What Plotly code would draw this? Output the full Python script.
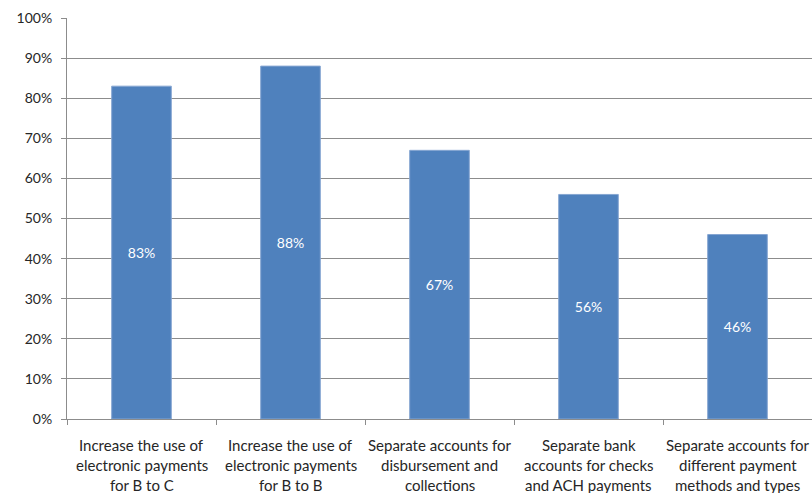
import plotly.graph_objects as go

categories = [
    "Increase the use of<br>electronic payments<br>for B to C",
    "Increase the use of<br>electronic payments<br>for B to B",
    "Separate accounts for<br>disbursement and<br>collections",
    "Separate bank<br>accounts for checks<br>and ACH payments",
    "Separate accounts for<br>different payment<br>methods and types",
]
values = [0.83, 0.88, 0.67, 0.56, 0.46]
value_labels = ["83%", "88%", "67%", "56%", "46%"]
y_ticks = [i / 10 for i in range(11)]
y_tick_labels = [f"{i*10}%" for i in range(11)]

FONT = "Lato, Open Sans, sans-serif"
TXT = "#262626"

fig = go.Figure(
    go.Bar(
        x=categories,
        y=values,
        text=value_labels,
        textposition="inside",
        insidetextanchor="middle",
        textangle=0,
        textfont=dict(color="white", size=14, family=FONT),
        marker=dict(color="#4F81BD", line=dict(color="#86A6D2", width=1)),
        hoverinfo="skip",
    )
)

# category labels as multi-line annotations (controlled line spacing)
for cat in categories:
    for i, line in enumerate(cat.split("<br>")):
        fig.add_annotation(
            x=cat, y=0, xref="x", yref="y",
            text=line, showarrow=False,
            yanchor="middle", xanchor="center",
            yshift=-(26 + 20 * i),
            font=dict(family=FONT, size=15, color=TXT),
        )

fig.update_layout(
    width=812,
    height=493,
    margin=dict(l=67, r=0, t=18, b=74),
    paper_bgcolor="white",
    plot_bgcolor="white",
    bargap=0.6,
    showlegend=False,
    font=dict(family=FONT, size=12, color=TXT),
)

fig.update_yaxes(
    range=[0, 1],
    tickvals=y_ticks,
    ticktext=y_tick_labels,
    showgrid=True,
    gridcolor="#8C8C8C",
    gridwidth=1,
    showline=True,
    linecolor="#8C8C8C",
    linewidth=1,
    ticks="outside",
    ticklen=5,
    tickcolor="#8C8C8C",
    zeroline=False,
    automargin=False,
    ticklabelstandoff=6,
    tickfont=dict(size=14, color=TXT),
)

fig.update_xaxes(
    showline=True,
    linecolor="#8C8C8C",
    linewidth=1,
    ticks="outside",
    tickson="boundaries",
    ticklen=5,
    tickcolor="#8C8C8C",
    showgrid=False,
    showticklabels=False,
    automargin=False,
)

# remove the browser's default 8px page margin so the figure fills the window exactly
fig.write_html(
    "out.html",
    config={"displayModeBar": False},
    post_script="document.body.style.margin='0';document.body.style.overflow='hidden';",
)
